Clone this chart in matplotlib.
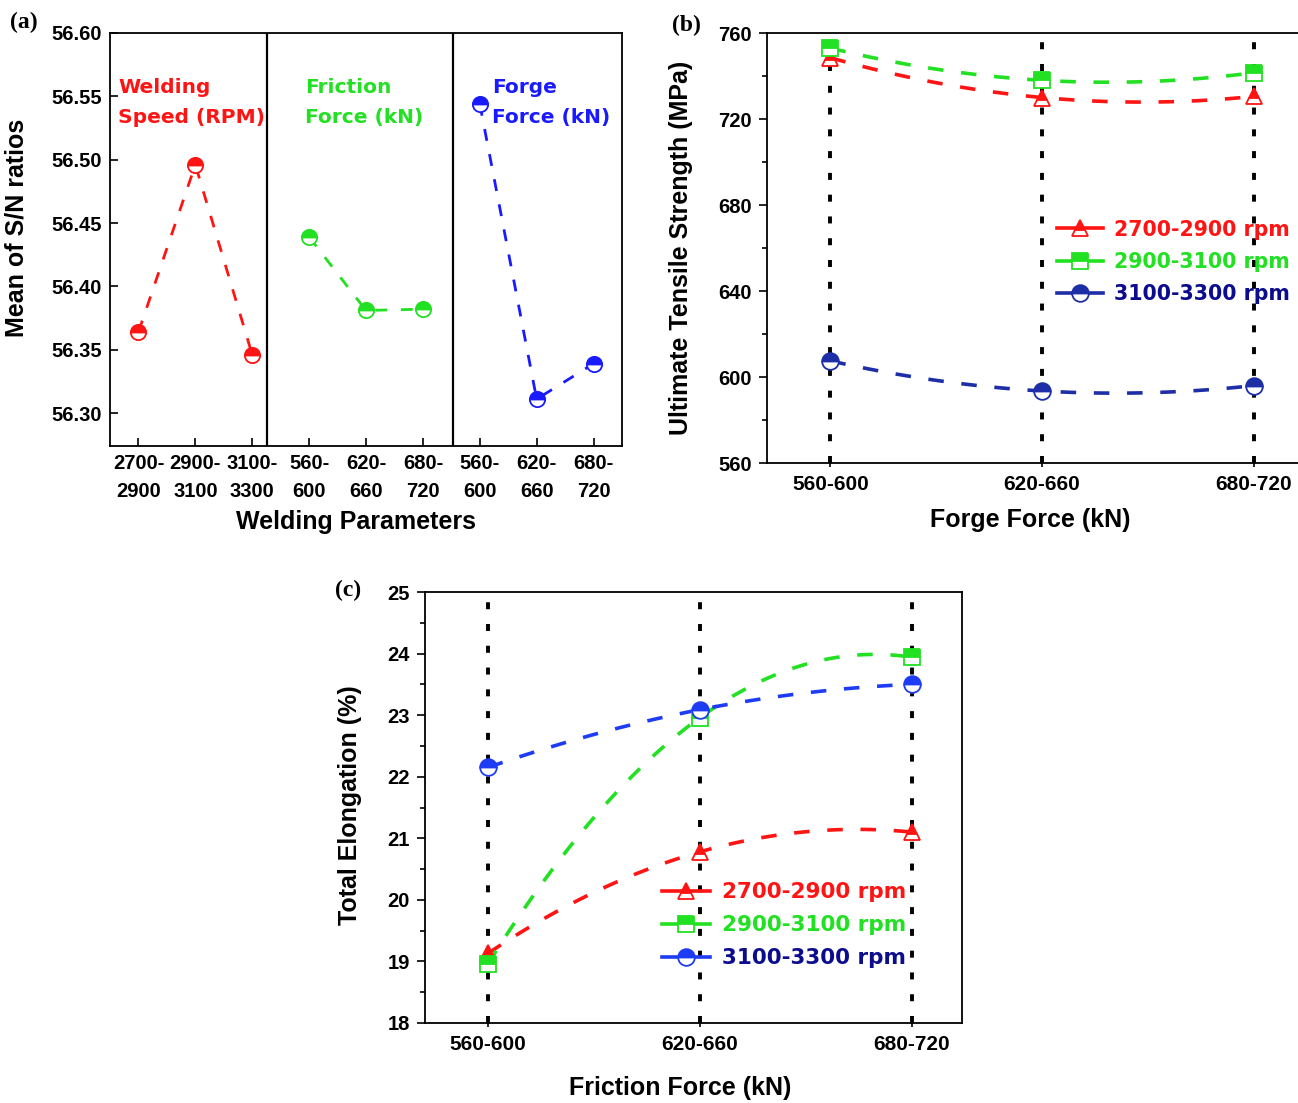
import numpy as np
import matplotlib
matplotlib.use("Agg")
import matplotlib.pyplot as plt
from matplotlib.ticker import MultipleLocator, AutoMinorLocator
from matplotlib.lines import Line2D

plt.rcParams['font.family'] = ['Liberation Sans', 'DejaVu Sans']
plt.rcParams['font.weight'] = 'bold'

# ---------------- data ----------------
a_ticklabels = ['2700-\n2900', '2900-\n3100', '3100-\n3300',
                '560-\n600', '620-\n660', '680-\n720',
                '560-\n600', '620-\n660', '680-\n720']
a_speed = [56.364, 56.496, 56.346]
a_friction = [56.439, 56.381, 56.382]
a_forge = [56.544, 56.311, 56.339]
a_group_titles = ['Welding\nSpeed (RPM)', 'Friction\nForce (kN)', 'Forge\nForce (kN)']

force_cats = ['560-600', '620-660', '680-720']
series_names = ['2700-2900 rpm', '2900-3100 rpm', '3100-3300 rpm']

b_uts_2700 = [748.5, 730.0, 730.5]
b_uts_2900 = [753.0, 738.0, 741.5]
b_uts_3100 = [607.5, 593.5, 596.0]

c_el_2700 = [19.13, 20.78, 21.10]
c_el_2900 = [18.96, 22.96, 23.94]
c_el_3100 = [22.15, 23.09, 23.50]

RED = '#ff1414'
GREEN = '#22e022'
BLUE_A = '#1a1aff'
BLUE_B = '#1e2ea6'
BLUE_C = '#1f3cf5'
NAVY = '#0c0c8e'

W, H = 1298, 1103
fig = plt.figure(figsize=(W / 100, H / 100), dpi=100)


def rect(l, t, r, b):
    return [l / W, 1 - b / H, (r - l) / W, (b - t) / H]


labfont = 18
wide = ['DejaVu Sans']
dash = (0, (4.3, 4.9))

# ---------------- panel (a) ----------------
axa = fig.add_axes(rect(110, 33, 622, 446))
xa = np.arange(1, 10)
groups = [(a_speed, RED), (a_friction, GREEN), (a_forge, BLUE_A)]
for gi, (vals, col) in enumerate(groups):
    xs = xa[gi * 3:gi * 3 + 3]
    axa.plot(xs, vals, linestyle=dash, color=col, lw=2.0, zorder=2)
    axa.plot(xs, vals, linestyle='none', marker='o', ms=11, fillstyle='top',
             markerfacecolor=col, markerfacecoloralt='white',
             markeredgecolor=col, mew=1.3, zorder=3)
for sx in (3.26, 6.53):
    axa.axvline(sx, color='black', lw=1.6, zorder=1)
axa.set_xlim(0.5, 9.5)
axa.set_ylim(56.274, 56.60)
axa.yaxis.set_major_locator(MultipleLocator(0.05))
axa.set_xticks(xa)
axa.set_xticklabels(a_ticklabels, linespacing=1.56)
axa.tick_params(direction='in', length=6, width=1.2, labelsize=14.5, pad=6)
axa.set_yticklabels([f'{v:.2f}' for v in axa.get_yticks()])
for sp in axa.spines.values():
    sp.set_linewidth(1.3)
axa.set_xlabel('Welding Parameters', fontsize=labfont, fontweight='bold')
axa.xaxis.set_label_coords(0.48, -0.155)
axa.set_ylabel('Mean of S/N ratios', fontsize=labfont, fontweight='bold')
axa.yaxis.set_label_coords(-0.16, 0.528)
for (tx, title), (_, col) in zip([(0.016, a_group_titles[0]), (0.381, a_group_titles[1]),
                                  (0.746, a_group_titles[2])], groups):
    axa.text(tx, 0.891, title, transform=axa.transAxes, color=col, fontsize=14.5,
             family=wide, fontweight='bold', ha='left', va='top', linespacing=1.7)

fig.text(10 / W, 1 - 22 / H, '(a)', family='Liberation Serif', fontweight='bold',
         fontsize=17, ha='left', va='center')

# ---------------- helpers for (b), (c) ----------------
markers = ['^', 's', 'o']


def smooth_curve(ax, xs, ys, col, lw=2.6):
    coef = np.polyfit(xs, ys, 2)
    xf = np.linspace(xs[0], xs[-1], 120)
    ax.plot(xf, np.polyval(coef, xf), linestyle=dash, color=col, lw=lw, zorder=2)


def draw_markers(ax, xs, ys, mk, col):
    ax.plot(xs, ys, linestyle='none', marker=mk, ms=12, fillstyle='top',
            markerfacecolor=col, markerfacecoloralt='white',
            markeredgecolor=col, mew=1.3, zorder=3)


def legend_handles(cols):
    hs = []
    for mk, col in zip(markers, cols):
        hs.append(Line2D([], [], linestyle='-', color=col, lw=2.6,
                         marker=mk, ms=12, fillstyle='top', markerfacecolor=col,
                         markerfacecoloralt='white', markeredgecolor=col, mew=1.3))
    return hs


def style_axes(ax, xlab, ylab, xl_coords, yl_coords):
    ax.tick_params(axis='y', which='major', direction='out', length=6, width=1.2,
                   labelsize=14.5, pad=5)
    ax.tick_params(axis='y', which='minor', direction='out', length=3.5, width=1.2)
    ax.tick_params(axis='x', direction='out', length=3, width=1.2, labelsize=15, pad=6)
    for sp in ax.spines.values():
        sp.set_linewidth(1.3)
    ax.set_xlabel(xlab, fontsize=labfont, fontweight='bold')
    ax.xaxis.set_label_coords(*xl_coords)
    ax.set_ylabel(ylab, fontsize=labfont, fontweight='bold')
    ax.yaxis.set_label_coords(*yl_coords)


def add_legend(ax, cols, anchor, size):
    leg = ax.legend(legend_handles(cols), series_names, loc='upper left',
                    bbox_to_anchor=anchor, frameon=False, numpoints=1,
                    handlelength=2.23, handletextpad=0.56, labelspacing=0.6,
                    borderpad=0, borderaxespad=0,
                    prop={'size': size, 'weight': 'bold', 'family': wide})
    for t, c in zip(leg.get_texts(), [RED, GREEN, NAVY]):
        t.set_color(c)
    return leg


vdots = (0, (1.8, 3.8))

# ---------------- panel (b) ----------------
axb = fig.add_axes(rect(767, 33, 1317, 463))
xb = np.arange(len(force_cats))
for xv in xb:
    axb.axvline(xv, color='black', lw=2.8, linestyle=vdots, zorder=1)
cols_b = [RED, GREEN, BLUE_B]
for vals, mk, col in zip([b_uts_2700, b_uts_2900, b_uts_3100], markers, cols_b):
    smooth_curve(axb, xb, vals, col)
    draw_markers(axb, xb, vals, mk, col)
axb.set_xlim(-0.30, 2.30)
axb.set_ylim(560, 760)
axb.yaxis.set_major_locator(MultipleLocator(40))
axb.yaxis.set_minor_locator(AutoMinorLocator(2))
axb.set_xticks(xb)
axb.set_xticklabels(force_cats)
style_axes(axb, 'Forge Force (kN)', 'Ultimate Tensile Strength (MPa)',
           (0.478, -0.105), (-0.135, 0.5))
add_legend(axb, cols_b, (0.527, 0.566), 14.8)
fig.text(672 / W, 1 - 25 / H, '(b)', family='Liberation Serif', fontweight='bold',
         fontsize=17, ha='left', va='center')

# ---------------- panel (c) ----------------
axc = fig.add_axes(rect(425, 592, 962, 1023))
xc = np.arange(len(force_cats))
for xv in xc:
    axc.axvline(xv, color='black', lw=2.8, linestyle=vdots, zorder=1)
cols_c = [RED, GREEN, BLUE_C]
for vals, mk, col in zip([c_el_2700, c_el_2900, c_el_3100], markers, cols_c):
    smooth_curve(axc, xc, vals, col)
    draw_markers(axc, xc, vals, mk, col)
axc.set_xlim(-0.297, 2.236)
axc.set_ylim(18, 25)
axc.yaxis.set_major_locator(MultipleLocator(1))
axc.yaxis.set_minor_locator(AutoMinorLocator(2))
axc.set_xticks(xc)
axc.set_xticklabels(force_cats)
style_axes(axc, 'Friction Force (kN)', 'Total Elongation (%)',
           (0.475, -0.123), (-0.117, 0.506))
add_legend(axc, cols_c, (0.441, 0.326), 15.5)
fig.text(335 / W, 1 - 590 / H, '(c)', family='Liberation Serif', fontweight='bold',
         fontsize=17, ha='left', va='center')

fig.savefig('out.png', dpi=100)
